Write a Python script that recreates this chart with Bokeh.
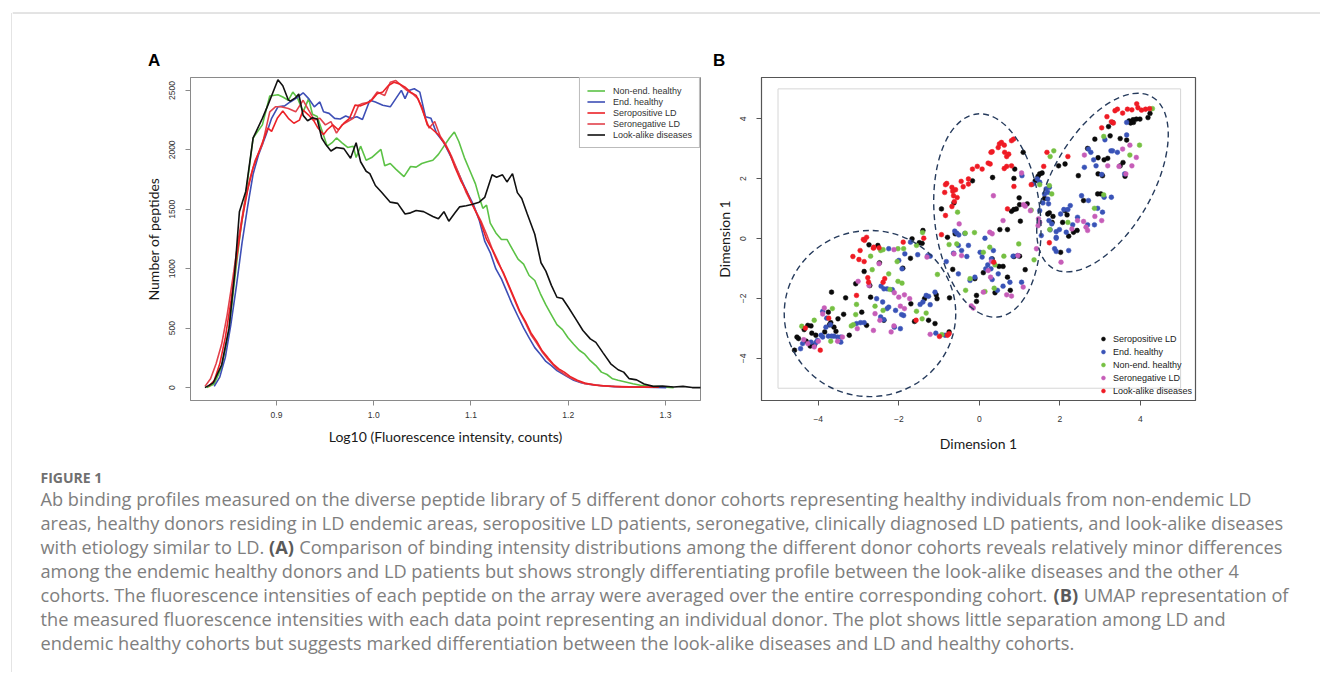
from bokeh.plotting import figure
from bokeh.models import Range1d, FixedTicker, Legend, LegendItem, NumeralTickFormatter
from bokeh.layouts import row, column
from bokeh.embed import file_html
from bokeh.resources import INLINE
from bokeh.core.properties import value

# ------------------------------------------------------------------ panel A data
a_x_ticks = [0.9, 1.0, 1.1, 1.2, 1.3]
a_y_ticks = [0, 500, 1000, 1500, 2000, 2500]
a_x_title = "Log10 (Fluorescence intensity, counts)"
a_y_title = "Number of peptides"
a_names = ["Non-end. healthy", "End. healthy", "Seropositive LD", "Seronegative LD", "Look-alike diseases"]
a_colors = ["#5cc246", "#3e4fb6", "#ec2227", "#e2424c", "#111111"]

curve_non_end = [(0.8284,0),(0.8360,30),(0.8436,170),(0.8512,480),(0.8569,900),(0.8627,1300),(0.8684,1620),
    (0.8760,2100),(0.8855,2210),(0.8931,2453),(0.9015,2464),(0.9065,2445),(0.9122,2417),(0.9168,2486),
    (0.9217,2435),(0.9274,2320),(0.9331,2431),(0.9370,2300),(0.9419,2280),(0.9465,2170),(0.9522,2031),
    (0.9572,2060),(0.9617,2100),(0.9674,2059),(0.9732,2020),(0.9789,2030),(0.9819,1935),(0.9865,2031),
    (0.9922,1913),(0.9979,1935),(1.0074,2004),(1.0113,1866),(1.0170,1885),(1.0227,1838),(1.0311,1775),
    (1.0379,1860),(1.0436,1855),(1.0494,1885),(1.0551,1900),(1.0608,1913),(1.0665,1962),(1.0722,2031),
    (1.0779,2100),(1.0829,2150),(1.0875,2070),(1.0932,1935),(1.0989,1824),(1.1046,1714),(1.1084,1604),
    (1.1122,1508),(1.1160,1535),(1.1198,1384),(1.1256,1301),(1.1313,1246),(1.1370,1246),(1.1427,1163),
    (1.1484,1080),(1.1541,1039),(1.1598,943),(1.1656,901),(1.1713,791),(1.1770,695),(1.1827,612),
    (1.1884,529),(1.1941,488),(1.1998,419),(1.2056,364),(1.2113,314),(1.2170,281),(1.2227,226),
    (1.2284,185),(1.2341,130),(1.2399,110),(1.2456,74),(1.2513,61),(1.2589,47),(1.2665,33),(1.2742,19),
    (1.2856,11),(1.2970,6),(1.3084,0)]

curve_end = [(0.8360,10),(0.8417,88),(0.8474,254),(0.8531,529),(0.8589,860),(0.8646,1218),(0.8703,1521),
    (0.8760,1797),(0.8817,1962),(0.8893,2128),(0.8950,2265),(0.9015,2362),(0.9084,2370),(0.9141,2403),
    (0.9198,2431),(0.9274,2480),(0.9331,2431),(0.9389,2362),(0.9446,2403),(0.9484,2320),(0.9541,2307),
    (0.9598,2265),(0.9655,2260),(0.9712,2285),(0.9770,2265),(0.9827,2279),(0.9884,2255),(0.9960,2417),
    (1.0017,2403),(1.0093,2376),(1.0170,2362),(1.0227,2431),(1.0284,2500),(1.0322,2431),(1.0360,2500),
    (1.0417,2514),(1.0474,2486),(1.0532,2279),(1.0589,2265),(1.0646,2140),(1.0722,2059),(1.0798,1935),
    (1.0875,1797),(1.0951,1659),(1.1027,1535),(1.1084,1411),(1.1141,1232),(1.1198,1136),(1.1256,998),
    (1.1313,915),(1.1370,805),(1.1427,695),(1.1484,598),(1.1541,502),(1.1598,419),(1.1656,336),
    (1.1713,281),(1.1770,220),(1.1827,185),(1.1884,143),(1.1941,116),(1.1998,88),(1.2056,61),
    (1.2132,41),(1.2208,28),(1.2322,17),(1.2475,8),(1.2627,6),(1.2780,3),(1.3008,0)]

curve_sero_pos = [(0.8303,10),(0.8360,60),(0.8417,200),(0.8474,420),(0.8531,720),(0.8589,1080),(0.8646,1410),
    (0.8703,1660),(0.8760,1850),(0.8836,2020),(0.8912,2183),(0.8950,2155),(0.9008,2265),(0.9065,2326),
    (0.9122,2265),(0.9179,2224),(0.9236,2250),(0.9274,2334),(0.9331,2293),(0.9389,2238),(0.9427,2183),
    (0.9484,2128),(0.9522,2169),(0.9579,2210),(0.9636,2169),(0.9693,2224),(0.9751,2265),(0.9808,2376),
    (0.9865,2370),(0.9922,2390),(0.9979,2417),(1.0036,2472),(1.0093,2486),(1.0151,2541),(1.0208,2569),
    (1.0265,2555),(1.0322,2527),(1.0379,2486),(1.0436,2458),(1.0494,2362),(1.0551,2210),(1.0608,2169),
    (1.0665,2128),(1.0722,2059),(1.0779,1976),(1.0836,1852),(1.0894,1742),(1.0951,1659),(1.1008,1549),
    (1.1065,1452),(1.1103,1384),(1.1160,1246),(1.1217,1163),(1.1275,1053),(1.1332,970),(1.1389,860),
    (1.1446,750),(1.1503,639),(1.1560,557),(1.1617,460),(1.1675,391),(1.1732,309),(1.1789,254),
    (1.1846,198),(1.1903,157),(1.1960,130),(1.2018,94),(1.2094,61),(1.2170,39),(1.2284,19),(1.2437,11),
    (1.2627,6),(1.2932,3)]

curve_sero_neg = [(0.8265,10),(0.8322,75),(0.8379,200),(0.8436,364),(0.8493,612),(0.8550,915),(0.8608,1246),
    (0.8665,1521),(0.8722,1742),(0.8779,1907),(0.8855,2045),(0.8931,2320),(0.8989,2362),(0.9046,2362),
    (0.9122,2348),(0.9198,2320),(0.9274,2417),(0.9331,2334),(0.9389,2252),(0.9446,2265),(0.9503,2210),
    (0.9560,2238),(0.9617,2141),(0.9674,2210),(0.9732,2238),(0.9789,2265),(0.9846,2376),(0.9884,2390),
    (0.9960,2403),(1.0036,2486),(1.0113,2458),(1.0170,2569),(1.0227,2583),(1.0284,2541),(1.0341,2500),
    (1.0398,2472),(1.0455,2431),(1.0513,2307),(1.0570,2183),(1.0627,2238),(1.0684,2114),(1.0741,2045),
    (1.0798,1950),(1.0875,1800),(1.0951,1640),(1.1027,1520),(1.1103,1400),(1.1160,1290),(1.1217,1170),
    (1.1275,1070),(1.1332,960),(1.1389,850),(1.1446,740),(1.1503,630),(1.1560,545),(1.1617,445),
    (1.1675,375),(1.1732,300),(1.1789,240),(1.1884,157),(1.1979,102),(1.2075,61),(1.2170,33),
    (1.2360,14),(1.2551,6),(1.2932,3)]

curve_look_alike = [(0.8265,0),(0.8350,40),(0.8436,190),(0.8512,500),(0.8569,950),(0.8619,1480),(0.8684,1650),
    (0.8760,2100),(0.8855,2265),(0.8912,2376),(0.9015,2590),(0.9065,2540),(0.9122,2420),(0.9141,2410),
    (0.9198,2440),(0.9229,2470),(0.9274,2290),(0.9320,2245),(0.9370,2270),(0.9419,2260),(0.9465,2100),
    (0.9503,2050),(0.9560,1990),(0.9617,2020),(0.9693,2010),(0.9762,1930),(0.9819,2060),(0.9865,1900),
    (0.9922,1820),(0.9960,1800),(1.0017,1700),(1.0074,1650),(1.0170,1560),(1.0246,1550),(1.0322,1460),
    (1.0379,1470),(1.0436,1490),(1.0513,1480),(1.0608,1440),(1.0665,1420),(1.0722,1480),(1.0772,1400),
    (1.0836,1470),(1.0882,1520),(1.0951,1530),(1.1008,1540),(1.1084,1560),(1.1141,1600),(1.1217,1790),
    (1.1263,1770),(1.1324,1790),(1.1370,1730),(1.1427,1800),(1.1477,1640),(1.1522,1590),(1.1579,1460),
    (1.1656,1290),(1.1720,1050),(1.1770,980),(1.1827,860),(1.1884,760),(1.1941,750),(1.1998,680),
    (1.2075,580),(1.2151,480),(1.2227,410),(1.2284,380),(1.2360,290),(1.2437,200),(1.2513,150),
    (1.2570,130),(1.2627,75),(1.2703,65),(1.2780,30),(1.2875,10),(1.2970,12),(1.3084,5),(1.3180,10),
    (1.3275,0),(1.3370,0)]

a_curves = [curve_non_end, curve_end, curve_sero_pos, curve_sero_neg, curve_look_alike]

# ------------------------------------------------------------------ panel B data
b_ticks = [-4, -2, 0, 2, 4]
b_title = "Dimension 1"
b_names = ["Seropositive LD", "End. healthy", "Non-end. healthy", "Seronegative LD", "Look-alike diseases"]
b_colors = ["#0a0a0a", "#3953b7", "#76c043", "#c65db8", "#ef1b24"]

pts_sero_pos = [(0.33,2.04),(0.88,2.32),(0.86,2.01),(0.99,1.36),(1.19,1.16),(1.00,1.13),(0.80,0.91),(0.86,0.97),
    (0.92,0.99),(0.51,0.30),(0.70,0.30),(1.02,0.58),(1.09,2.88),(1.46,2.08),(1.39,1.93),(1.50,2.16),(1.56,2.19),
    (1.70,0.82),(1.62,1.34),(1.74,0.86),(1.83,0.74),(1.81,0.54),(1.97,2.43),(2.13,2.49),(2.46,2.10),(2.59,1.27),
    (2.07,0.54),(2.13,0.93),(2.18,0.79),(2.34,0.21),(2.43,0.27),(2.22,0.08),(2.69,3.01),(2.87,3.32),(2.95,2.70),
    (3.10,2.63),(3.19,2.68),(3.25,3.43),(3.31,3.88),(3.21,3.74),(3.50,3.34),(3.66,3.29),(3.82,3.97),(3.83,3.88),
    (3.90,3.99),(3.99,3.99),(3.76,3.86),(3.72,3.93),(4.24,4.18),(4.19,4.04),(3.62,2.08),(3.50,2.43),(3.57,2.54),
    (2.94,1.49),(3.02,1.49),(2.95,2.16),(3.06,2.10),
    (2.02,-0.46),(0.32,-0.68),(0.49,-0.93),(0.59,-0.93),(0.10,-1.14),(1.14,-1.04),(0.70,-1.29),(0.77,-1.73),
    (0.39,-1.81),(1.00,-0.59),(0.86,-0.60),
    (-2.74,-0.21),(-2.52,-0.23),(-2.48,-0.81),(-2.86,-1.10),(-3.07,-1.51),(-2.72,-1.57),(-3.67,-1.79),(-3.32,-1.98),
    (-2.92,-2.46),(-3.37,-2.53),(-3.51,-2.68),(-3.75,-2.46),(-3.69,-2.81),(-3.72,-2.88),(-3.61,-2.96),(-3.56,-3.10),
    (-3.84,-3.12),(-4.06,-3.23),(-4.16,-3.16),(-4.26,-2.90),(-4.18,-2.92),(-4.35,-3.04),(-4.49,-3.34),(-4.53,-3.29),
    (-4.30,-3.43),(-4.20,-3.59),(-4.10,-3.57),(-4.59,-3.73),(-3.23,-3.23),(-2.80,-2.90),(-2.70,-1.96),(-1.71,-0.66),
    (-1.90,-0.99),(-1.67,-0.01),(-1.49,-0.14),(-1.42,-0.16),(-1.36,-2.01),(-1.07,-1.88),(-1.05,-2.01),(-1.70,-2.18),
    (-1.61,-2.77),(-1.26,-2.73),(-1.10,-2.84),(-0.75,-3.12),(-0.74,-1.98),(-2.37,-2.73),
    (-0.17,1.93),(-0.63,1.19),(-0.94,0.99),(-1.40,0.27),(-0.79,0.04),(-0.60,0.16),(-0.66,-1.03),(-0.11,-1.34),
    (-0.07,-1.90),(-0.07,-2.10)]

pts_end = [(1.44,1.99),(1.50,1.88),(1.62,1.49),(1.70,1.54),(1.74,1.71),(1.66,1.66),(1.70,1.32),(1.58,1.19),
    (1.72,1.16),(1.50,0.93),(1.73,0.60),(1.80,0.49),(1.76,0.29),(1.91,0.23),(1.91,0.04),(1.99,0.30),(2.16,0.21),
    (2.10,0.97),(2.20,0.97),(2.02,0.82),(2.26,1.10),(2.32,0.46),(2.44,0.71),(2.54,1.43),(2.71,1.27),(2.61,2.38),
    (2.71,2.99),(2.77,2.88),(2.90,2.43),(3.04,2.14),(2.84,2.63),(3.27,2.93),(3.31,2.93),(3.43,2.88),(3.66,3.88),
    (3.66,3.46),(3.12,3.30),(3.61,2.16),(3.10,1.38),(3.28,1.38),(2.94,1.01),(3.06,0.88),(2.69,0.46),(2.86,0.46),
    (1.33,1.82),(1.06,2.10),(1.54,0.10),
    (1.91,0.01),(2.22,-0.40),(1.87,-0.34),(1.91,-0.43),(0.14,0.01),(0.35,-0.40),(0.02,-0.46),(0.07,-0.62),
    (0.30,-0.68),(0.21,-0.88),(0.29,-1.01),(0.47,-1.18),(0.16,-1.01),(0.59,-1.59),(0.45,-1.73),(0.76,-1.46),
    (1.05,-1.46),(0.84,-0.59),(0.95,-0.57),(0.32,-1.37),
    (-2.44,-1.59),(-2.37,-1.68),(-2.29,-1.68),(-2.16,-1.71),(-2.55,-2.01),(-2.40,-2.12),(-2.29,-2.34),(-2.08,-2.40),
    (-1.88,-2.57),(-1.93,-2.54),(-2.37,-2.71),(-2.45,-2.62),(-2.95,-2.81),(-2.86,-2.81),(-3.05,-2.84),(-2.25,-2.29),
    (-1.96,-3.01),(-2.11,-2.96),(-1.92,-1.01),(-1.28,-0.57),(-1.22,-0.59),(-0.82,-0.77),(-1.32,-1.90),(-1.26,-1.93),
    (-1.47,-2.20),(-1.40,-2.12),(-1.10,-1.79),(-1.22,-2.21),(-3.79,-2.66),(-3.70,-2.88),(-3.81,-2.96),(-3.89,-2.43),
    (-3.52,-3.29),(-3.44,-3.29),(-3.61,-3.26),(-3.67,-3.26),(-3.75,-3.26),(-3.93,-3.23),(-3.89,-3.29),(-4.02,-3.40),
    (-4.06,-3.48),(-3.44,-3.46),(-4.39,-3.51),(-4.44,-3.68),(-4.18,-3.46),(-1.08,-3.16),(-0.85,-3.23),(-2.00,-0.73),
    (-1.53,-0.54),(-1.85,-0.51),(-2.25,-0.34),(-1.71,-0.12),
    (-0.61,0.25),(-0.56,0.18),(-0.51,0.12),(-0.36,0.17),(-0.64,-0.49),(-0.52,-0.23),(-0.44,-0.40),(-0.31,-0.60),
    (-0.27,-0.23),(-0.52,-1.18),(-0.23,-1.40),(-0.11,-1.29)]

pts_non_end = [(1.85,2.93),(1.76,2.74),(1.50,1.80),(1.74,1.77),(1.80,1.49),(2.86,1.01),(3.09,1.46),(2.20,0.54),
    (1.75,0.30),(3.09,3.41),(3.74,2.79),(3.98,3.12),(4.30,4.34),(1.29,0.95),
    (0.98,-0.18),(0.26,-0.29),(0.10,-0.46),(0.61,-0.59),(1.36,-0.71),(0.39,-0.88),(0.37,-1.66),(0.14,-1.77),
    (-2.45,-0.40),(-2.39,-0.37),(-2.02,-0.34),(-1.88,-0.34),(-1.56,-0.23),(-2.70,-0.59),(-2.66,-1.04),(-2.25,-1.18),
    (-2.04,-0.77),(-2.02,-1.43),(-1.92,-1.49),(-3.05,-2.20),(-2.59,-2.26),(-2.39,-2.40),(-3.07,-2.54),(-3.18,-2.92),
    (-3.13,-2.88),(-3.65,-2.34),(-4.10,-2.73),(-4.41,-2.93),(-3.69,-3.43),(-1.56,-2.43),(-1.42,-2.68),(-1.32,-2.49),
    (-1.04,-1.20),(-0.93,-3.21),(-2.22,-1.70),
    (-0.54,0.88),(-1.41,0.20),(-0.35,0.18),(-0.12,0.20),(-0.75,-0.20),(-0.56,-0.18),(-0.34,-1.73),(-0.23,-1.34)]

pts_sero_neg = [(1.05,2.19),(0.35,1.43),(0.59,0.60),(0.26,0.21),(0.32,0.16),(1.14,1.08),(1.10,1.13),(1.27,0.93),
    (2.61,2.79),(3.19,2.43),(3.47,2.41),(3.79,2.43),(3.90,2.71),(3.74,3.12),(3.56,2.99),(3.64,2.16),(2.87,0.74),
    (3.04,0.60),(2.59,0.57),(2.44,0.60),(2.30,0.32),(2.65,0.38),(2.69,0.27),(1.50,0.54),(1.47,0.66),(1.46,0.43),
    (1.42,-0.34),(2.03,-0.79),(0.30,-0.77),(0.28,-1.29),(0.22,-1.07),(0.96,-0.57),(1.09,-1.62),(0.68,-1.88),
    (0.80,-1.92),(0.10,-1.79),
    (-2.12,-0.37),(-2.49,-0.84),(-3.01,-1.43),(-2.74,-1.57),(-2.11,-1.81),(-2.00,-1.96),(-1.86,-1.88),(-1.86,-2.34),
    (-2.59,-2.51),(-2.63,-3.07),(-2.47,-2.73),(-2.12,-2.92),(-2.19,-3.12),(-3.03,-3.01),(-1.96,-2.26),(-1.73,-2.01),
    (-3.85,-2.32),(-3.89,-2.52),(-4.36,-3.38),(-4.26,-3.51),(-4.10,-3.62),(-3.52,-3.43),(-3.40,-3.29),(-1.22,-3.20),
    (-1.30,-0.62),(-4.00,-3.43),
    (-0.50,0.49),(-0.63,-0.51),(-0.44,-0.57),(-0.20,-2.25),(-0.15,-2.32)]

pts_look_alike = [(-0.17,2.32),(-0.05,2.41),(-0.45,1.91),(-0.27,1.99),(-0.27,1.82),(-0.40,1.73),(-0.81,1.84),
    (-0.84,1.80),(-0.68,1.71),(-0.59,1.63),(-0.66,1.58),(-0.86,1.54),(-0.64,1.43),(-0.55,1.37),(-0.62,1.23),
    (-0.68,1.07),(-0.84,0.77),(-0.94,0.13),
    (0.07,2.32),(0.22,2.52),(0.27,2.49),(0.32,2.90),(0.47,3.04),(0.50,3.16),(0.55,3.21),(0.62,3.12),(0.63,2.88),
    (0.68,2.74),(0.73,2.82),(0.80,3.27),(0.85,3.32),(0.68,2.41),(0.62,2.34),(0.80,2.43),(0.86,1.74),(0.70,0.99),
    (1.68,2.88),(1.60,2.41),(1.29,1.80),(2.20,2.74),(3.04,3.70),(3.17,4.07),(3.28,3.90),(3.33,3.86),(3.37,4.27),
    (3.43,4.32),(3.56,4.19),(3.68,4.32),(3.79,4.30),(3.91,4.50),(3.94,4.37),(4.03,4.29),(4.13,4.32),(4.23,4.34),
    (0.29,2.88),
    (1.74,-0.14),(0.36,-0.79),
    (-2.88,-0.03),(-2.85,-0.06),(-2.80,0.04),(-2.63,-0.32),(-2.62,-0.29),(-2.96,-0.40),(-3.14,-0.60),(-2.99,-0.70),
    (-2.86,-0.77),(-2.49,-0.31),(-2.77,-1.31),(-2.75,-1.46),(-2.39,-1.46),(-2.35,-1.34),(-3.05,-1.90),(-3.74,-2.66),
    (-4.32,-2.99),(-3.95,-3.73),(-1.57,-2.73),(-0.99,-3.27),(-0.79,-3.23),(-0.75,-3.18),(-1.89,-0.12),(-1.38,0.01)]

b_groups = [pts_sero_pos, pts_end, pts_non_end, pts_sero_neg, pts_look_alike]

# cluster ellipses (centre x, centre y, width, height, angle in radians)
ell_x = [-2.715, 0.20, 3.06]
ell_y = [-2.506, 0.77, 1.87]
ell_w = [4.26, 2.63, 4.92]
ell_h = [5.55, 6.82, 3.34]
ell_angle = [0.0, 0.1, 1.047]
inner_box_limit = 5

# ------------------------------------------------------------------ caption / panel letters
panel_letters = ["A", "B"]
caption_head = "FIGURE 1"
caption_lines = [
    "Ab binding profiles measured on the diverse peptide library of 5 different donor cohorts representing healthy individuals from non-endemic LD",
    "areas, healthy donors residing in LD endemic areas, seropositive LD patients, seronegative, clinically diagnosed LD patients, and look-alike diseases",
    ["with etiology similar to LD.", "(A)", "Comparison of binding intensity distributions among the different donor cohorts reveals relatively minor differences"],
    "among the endemic healthy donors and LD patients but shows strongly differentiating profile between the look-alike diseases and the other 4",
    ["cohorts. The fluorescence intensities of each peptide on the array were averaged over the entire corresponding cohort.", "(B)", "UMAP representation of"],
    "the measured fluorescence intensities with each data point representing an individual donor. The plot shows little separation among LD and",
    "endemic healthy cohorts but suggests marked differentiation between the look-alike diseases and LD and healthy cohorts.",
]

TICK_FONT = "Liberation Sans"
TITLE_FONT = "Lato"
CAP_FONT = "Open Sans"
RULE_COLOR = "#c8c8c8"

# layout sizes (pixels) - the page itself starts at the window's top-left corner
STRIP_W = 12
COL_W = 1308
HEAD_H = 70
MID_H = 390
CAP_H = 212
TOTAL_H = HEAD_H + MID_H + CAP_H


def blank(w, h):
    f = figure(width=w, height=h, x_range=Range1d(0, w), y_range=Range1d(h, 0),
               toolbar_location=None, output_backend="svg", x_axis_location=None, y_axis_location=None,
               min_border=0)
    f.grid.visible = False
    f.outline_line_color = None
    return f


def style_axes(p, axis_color):
    for ax in (p.xaxis[0], p.yaxis[0]):
        ax.axis_line_color = axis_color
        ax.major_tick_line_color = axis_color
        ax.minor_tick_line_color = None
        ax.major_tick_out = 5
        ax.major_tick_in = 0
        ax.major_label_text_font = TICK_FONT
        ax.major_label_text_font_size = "8.5px"
        ax.major_label_text_color = "#333333"
        ax.axis_label_text_font = TITLE_FONT
        ax.axis_label_text_font_style = "normal"
        ax.axis_label_text_font_size = "14px"
        ax.axis_label_text_color = "#1a1a1a"
    p.yaxis[0].major_label_orientation = "vertical"
    p.grid.visible = False


# ------------------------------------------------------------------ left rule strip
strip = blank(STRIP_W, TOTAL_H)
strip.line([11.5, 11.5], [12.5, TOTAL_H], line_color=RULE_COLOR, line_width=1)
strip.line([11.5, STRIP_W], [12.5, 12.5], line_color=RULE_COLOR, line_width=1)

# ------------------------------------------------------------------ header (top rule + panel letters)
head = blank(COL_W, HEAD_H)
head.line([0, COL_W], [12.5, 12.5], line_color=RULE_COLOR, line_width=1)
head.text(x=[135.5, 700.5], y=[60, 60], text=panel_letters, text_font=value(TICK_FONT),
          text_font_style="bold", text_font_size="17px", text_color="#000000",
          text_baseline="alphabetic", text_align="left")

# ------------------------------------------------------------------ panel A
pa = figure(width=700, height=MID_H, x_range=Range1d(0.8116, 1.336), y_range=Range1d(-108.7, 2608.7),
            toolbar_location=None, output_backend="svg",
            min_border_left=178, min_border_right=12, min_border_top=5, min_border_bottom=60)
pa.outline_line_color = "#8a8a8a"
style_axes(pa, "#8a8a8a")
pa.xaxis.ticker = FixedTicker(ticks=a_x_ticks)
pa.xaxis.formatter = NumeralTickFormatter(format="0.0")
pa.yaxis.ticker = FixedTicker(ticks=a_y_ticks)
pa.xaxis.axis_label = a_x_title
pa.yaxis.axis_label = a_y_title
pa.xaxis.major_label_standoff = 6
pa.xaxis.axis_label_standoff = 7
pa.yaxis.major_label_standoff = 10
pa.yaxis.axis_label_standoff = 5

curves_by_name = dict(zip(a_names, zip(a_curves, a_colors)))
draw_order = ["Non-end. healthy", "End. healthy", "Seronegative LD", "Seropositive LD", "Look-alike diseases"]
rend_a = {}
for name in draw_order:
    curve, col = curves_by_name[name]
    rend_a[name] = pa.line([c[0] for c in curve], [c[1] for c in curve], line_color=col, line_width=1.6)

leg_a = Legend(items=[LegendItem(label=n, renderers=[rend_a[n]]) for n in a_names],
               location="top_right", margin=0, padding=7, spacing=0,
               label_height=11, glyph_height=11, glyph_width=18, label_standoff=8,
               label_text_font=TICK_FONT, label_text_font_size="9px", label_text_color="#333333",
               border_line_color="#777777", border_line_width=1,
               background_fill_color="white", background_fill_alpha=1)
pa.add_layout(leg_a)

# ------------------------------------------------------------------ panel B
pb = figure(width=602, height=MID_H, x_range=Range1d(-5.41, 5.37), y_range=Range1d(-5.41, 5.38),
            toolbar_location=None, output_backend="svg",
            min_border_left=45, min_border_right=119, min_border_top=7, min_border_bottom=60)
pb.outline_line_color = "#555555"
pb.outline_line_width = 1.2
style_axes(pb, "#555555")
pb.xaxis.ticker = FixedTicker(ticks=b_ticks)
pb.yaxis.ticker = FixedTicker(ticks=b_ticks)
pb.xaxis.axis_label = b_title
pb.yaxis.axis_label = b_title
pb.xaxis.major_label_standoff = 10
pb.xaxis.axis_label_standoff = 10
pb.yaxis.major_label_standoff = 10
pb.yaxis.axis_label_standoff = 5

pb.quad(left=[-inner_box_limit], right=[inner_box_limit], bottom=[-inner_box_limit], top=[inner_box_limit],
        fill_color=None, line_color="#d6d6d6", line_width=1)

rend_b = []
for name, col, pts in zip(b_names, b_colors, b_groups):
    r = pb.scatter([p[0] for p in pts], [p[1] for p in pts], marker="circle", size=4.8,
                   fill_color=col, line_color=col, line_width=0.5)
    rend_b.append(r)

pb.ellipse(x=ell_x, y=ell_y, width=ell_w, height=ell_h, angle=ell_angle,
           fill_color=None, line_color="#263b5c", line_width=1.4, line_dash="6 4")

leg_b = Legend(items=[LegendItem(label=n, renderers=[r]) for n, r in zip(b_names, rend_b)],
               location="bottom_right", margin=3, padding=2, spacing=0,
               label_height=13, glyph_height=13, glyph_width=10, label_standoff=5,
               label_text_font=TICK_FONT, label_text_font_size="9px", label_text_color="#222222",
               border_line_color=None, background_fill_alpha=0)
pb.add_layout(leg_b)

# ------------------------------------------------------------------ caption
cap = blank(COL_W, CAP_H)
X0 = 28
cap.text(x=[X0], y=[17], text=[caption_head], text_font=value(CAP_FONT), text_font_style="bold",
         text_font_size="14px", text_color="#707070", text_baseline="middle", text_align="left")

FS = 18.2
cap_style = dict(text_font=value(CAP_FONT), text_font_size=f"{FS}px", text_color="#7e7e7e",
                 text_baseline="middle", text_align="left")
bold_style = dict(text_font=value(CAP_FONT), text_font_style="bold", text_font_size=f"{FS}px",
                  text_color="#5a5a5a", text_baseline="middle", text_align="left")
bold_offsets = {2: (228.5, 25.5), 4: (1013.0, 25.5)}
for i, ln in enumerate(caption_lines):
    yy = 38 + 24 * i
    if isinstance(ln, list):
        xa, bw = bold_offsets[i]
        cap.text(x=[X0], y=[yy], text=[ln[0]], **cap_style)
        cap.text(x=[X0 + xa], y=[yy], text=[ln[1]], **bold_style)
        cap.text(x=[X0 + xa + bw + 4.7], y=[yy], text=[ln[2]], **cap_style)
    else:
        cap.text(x=[X0], y=[yy], text=[ln], **cap_style)

page = row(strip, column(head, row(pa, pb), cap))

open("out.html", "w").write(file_html(page, INLINE))
